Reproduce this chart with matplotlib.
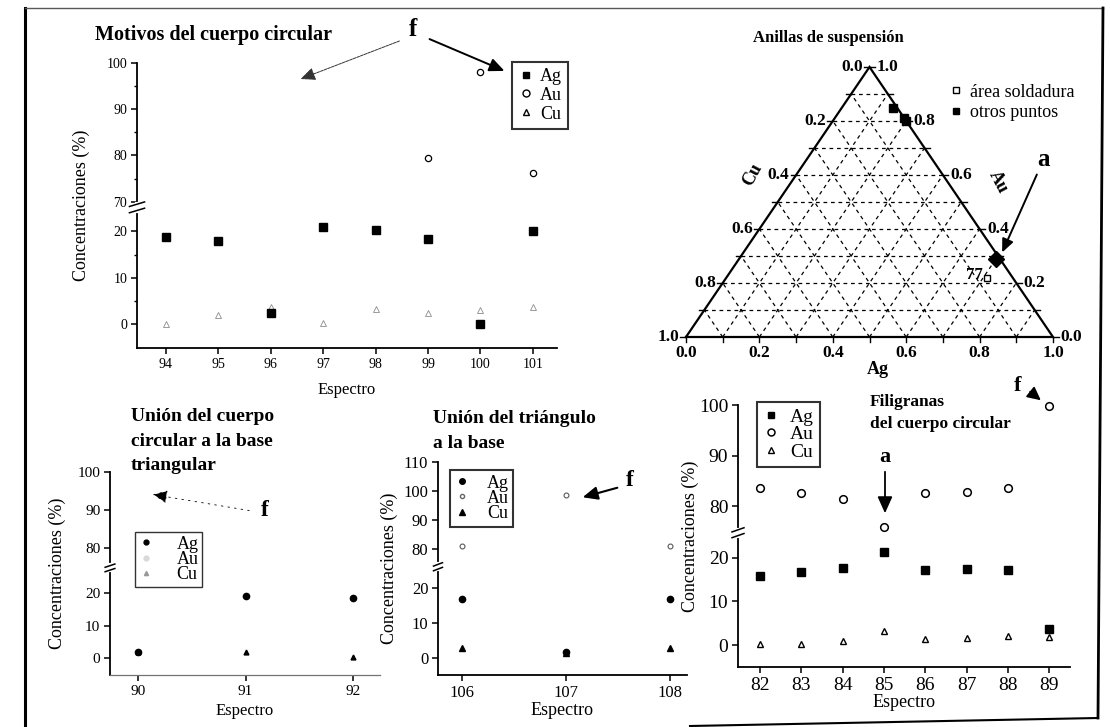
import numpy as np
import matplotlib
matplotlib.use('Agg')
import matplotlib.pyplot as plt
from matplotlib.lines import Line2D

plt.rcParams['font.family'] = ['Liberation Serif', 'DejaVu Serif']
plt.rcParams['mathtext.fontset'] = 'stix'

# ---- data: Motivos del cuerpo circular ----
esp_motivos = [94, 95, 96, 97, 98, 99, 100, 101]
ag_motivos = [18.9, 17.9, 2.3, 21.0, 20.4, 18.3, 0.0, 20.0]
au_motivos_x = [99, 100, 101]
au_motivos = [79.5, 98.0, 76.3]
cu_motivos = [0.0, 2.0, 3.6, 0.2, 3.2, 2.3, 3.0, 3.6]

# ---- data: Unión del cuerpo circular a la base triangular ----
esp_union1 = [90, 91, 92]
ag_union1 = [2.0, 19.1, 18.5]
cu_union1 = [2.0, 1.8, 0.4]

# ---- data: Unión del triángulo a la base ----
esp_union2 = [106, 107, 108]
ag_union2 = [17.0, 1.7, 17.0]
au_union2 = [81.0, 98.5, 81.0]
cu_union2 = [3.0, 1.5, 3.0]

# ---- data: Filigranas del cuerpo circular ----
esp_filig = [82, 83, 84, 85, 86, 87, 88, 89]
ag_filig = [15.9, 16.8, 17.7, 21.4, 17.3, 17.5, 17.3, 3.6]
au_filig = [83.7, 82.7, 81.4, 75.9, 82.7, 82.9, 83.7, 99.8]
cu_filig = [0.2, 0.2, 0.9, 3.2, 1.4, 1.6, 2.0, 1.8]

# ---- data: Anillas de suspensión (ternary Ag-Au-Cu fractions) ----
otros_ag = [0.14, 0.19, 0.20]
otros_au = [0.85, 0.81, 0.80]
a_ag, a_au = 0.70, 0.29
sold_ag, sold_au = 0.71, 0.22
sold_label = '77'
tern_ticks = [0.0, 0.2, 0.4, 0.6, 0.8, 1.0]

W, H = 1110, 727
fig = plt.figure(figsize=(W / 100, H / 100), dpi=100)


def px(x, y):
    return (x, H - y)


def box(l, r, t, b):
    return [l / W, 1 - b / H, (r - l) / W, (b - t) / H]


def broken(b1, b2, k, eps=0.01):
    m2 = b1 + (b2 - b1) * eps

    def fwd(y):
        y = np.asarray(y, dtype=float)
        return np.where(y <= b1, y,
                        np.where(y <= b2, b1 + (y - b1) * eps, m2 + (y - b2) * k))

    def inv(m):
        m = np.asarray(m, dtype=float)
        return np.where(m <= b1, m,
                        np.where(m <= m2, b1 + (m - b1) / eps, b2 + (m - m2) / k))
    return fwd, inv


def setup_axis(ax, b1, b2, k, ylo, yhi, yticks, xlim, xticks, fs, minor=None):
    fwd, inv = broken(b1, b2, k)
    ax.set_yscale('function', functions=(fwd, inv))
    ax.set_ylim(ylo, yhi)
    ax.set_yticks(yticks)
    ax.set_yticklabels([str(v) for v in yticks])
    if minor is not None:
        ax.set_yticks(minor, minor=True)
    ax.set_xlim(*xlim)
    ax.set_xticks(xticks)
    ax.set_xticklabels([str(v) for v in xticks])
    for s in ['top', 'right']:
        ax.spines[s].set_visible(False)
    for s in ['left', 'bottom']:
        ax.spines[s].set_linewidth(1.3)
    ax.tick_params(axis='both', direction='out', length=4, width=1.1,
                   labelsize=fs, pad=3)
    ax.tick_params(axis='y', which='minor', length=2, width=1)
    ax.tick_params(axis='x', which='minor', bottom=False)
    # break mark on the y axis
    lo, hi = fwd(ylo), fwd(yhi)
    f = (fwd(b1) + 0.5 * (fwd(b2) - fwd(b1)) - lo) / (hi - lo)
    ax.plot([0, 0], [f - 0.012, f + 0.012], transform=ax.transAxes,
            color='white', lw=3, clip_on=False, zorder=5)
    for d in (-0.011, 0.011):
        ax.plot([-0.018, 0.018], [f + d - 0.008, f + d + 0.008],
                transform=ax.transAxes, color='black', lw=1.1,
                clip_on=False, zorder=6)


def framed_legend(ax, handles, anchor, fs, lw, **kw):
    lg = ax.legend(handles, ['Ag', 'Au', 'Cu'], loc='upper left',
                   bbox_to_anchor=anchor, fancybox=False, fontsize=fs,
                   handlelength=0.8, borderaxespad=0, **kw)
    lg.get_frame().set_edgecolor('black')
    lg.get_frame().set_linewidth(lw)
    return lg


sq = dict(marker='s', color='black', linestyle='none', clip_on=False)
circ = dict(marker='o', mfc='white', mec='black', linestyle='none',
            clip_on=False)
tri = dict(marker='^', mfc='white', mec='black', linestyle='none',
           clip_on=False)

# ================= Panel 1: Motivos del cuerpo circular =================
ax1 = fig.add_axes(box(137, 557, 63, 348))
setup_axis(ax1, 25, 69, 1.0, -5.2, 100, [0, 10, 20, 70, 80, 90, 100],
           (93.45, 101.46), esp_motivos, 10,
           minor=[5, 15, 75, 85, 95])
ax1.plot(esp_motivos, cu_motivos, ms=4.5, mew=0.6, **{**tri, 'mec': '0.55'})
ax1.plot(au_motivos_x, au_motivos, ms=4.5, mew=0.9, **circ)
ax1.plot(esp_motivos, ag_motivos, ms=5.5, **sq)
ax1.set_ylabel('Concentraciones (%)', fontsize=13, labelpad=12)
ax1.set_xlabel('Espectro', fontsize=12, labelpad=8)
h1 = [Line2D([], [], ms=5, **sq), Line2D([], [], ms=5, mew=1, **circ),
      Line2D([], [], ms=5, mew=1, **tri)]
framed_legend(ax1, h1, (0.893, 1.005), 13, 1.5, handletextpad=0.4,
              borderpad=0.35, labelspacing=0.1)
fig.text(95 / W, 1 - 35 / H, 'Motivos del cuerpo circular', fontsize=14.5,
         fontweight='bold', va='center', ha='left')
fig.text(413 / W, 1 - 30 / H, 'f', fontsize=18, fontweight='bold',
         ha='center', va='center')
ax1.annotate('', xy=px(298, 80), xytext=px(402, 40), xycoords='figure pixels',
             textcoords='figure pixels',
             arrowprops=dict(arrowstyle='-|>,head_length=0.9,head_width=0.4',
                             color='0.2', lw=0.7, ls=(0, (3, 1))))
ax1.annotate('', xy=px(507, 72), xytext=px(427, 38), xycoords='figure pixels',
             textcoords='figure pixels',
             arrowprops=dict(arrowstyle='-|>,head_length=0.9,head_width=0.4',
                             color='black', lw=1.4))

# ================= Panel 2: ternary =================
ax2 = fig.add_axes(box(686, 1053, 67, 337))
ax2.set_xlim(0, 1)
ax2.set_ylim(0, 1)
ax2.axis('off')


def cart(ag, au):
    return np.asarray(ag) + np.asarray(au) / 2.0, np.asarray(au)


for i in range(1, 10):
    t = i / 10
    dash = dict(color='black', lw=0.9, ls=(0, (3, 3)))
    ax2.plot([t / 2, 1 - t / 2], [t, t], **dash)
    ax2.plot([t, t + (1 - t) / 2], [0, 1 - t], **dash)
    ax2.plot([1 - t, (1 - t) / 2], [0, 1 - t], **dash)
ax2.plot([0, 1, 0.5, 0], [0, 0, 1, 0], color='black', lw=1.6,
         clip_on=False, solid_joinstyle='miter')
for i in range(11):
    t = i / 10
    ax2.plot([t, t], [0, -0.02], color='black', lw=1, clip_on=False)
    ax2.plot([t / 2, t / 2 - 0.015], [t, t], color='black', lw=1, clip_on=False)
    ax2.plot([1 - t / 2, 1 - t / 2 + 0.015], [t, t], color='black', lw=1,
             clip_on=False)
tfs = 12.5
for v in tern_ticks:
    ax2.text(v, -0.03, f'{v:.1f}', ha='center', va='top', fontsize=tfs,
             fontweight='bold')
for v in tern_ticks:
    au = 1 - v
    ax2.text(au / 2 - 0.018, au, f'{v:.1f}', ha='right', va='center',
             fontsize=tfs, fontweight='bold')
for v in tern_ticks:
    ax2.text(1 - v / 2 + 0.02, v, f'{v:.1f}', ha='left', va='center',
             fontsize=tfs, fontweight='bold')
ax2.text(0.523, -0.12, 'Ag', ha='center', va='center', fontsize=13,
         fontweight='bold')
ax2.text(0.18, 0.60, 'Cu', ha='center', va='center', fontsize=13,
         fontweight='bold', rotation=62)
ax2.text(0.85, 0.575, 'Au', ha='center', va='center', fontsize=13,
         fontweight='bold', rotation=-62)
x, y = cart(otros_ag, otros_au)
ax2.plot(x, y, ms=5.5, **sq)
x, y = cart(a_ag, a_au)
ax2.plot([x], [y], marker='D', ms=8, color='black', ls='none', clip_on=False)
x, y = cart(sold_ag, sold_au)
ax2.plot([x], [y], marker='s', ms=5, mfc='white', mec='black', mew=1,
         ls='none')
ax2.text(x - 0.012, y + 0.01, sold_label, ha='right', va='center',
         fontsize=12, fontweight='bold')
h2 = [Line2D([], [], marker='s', ms=5, mfc='white', mec='black', mew=1,
             ls='none'),
      Line2D([], [], ms=5, **sq)]
ax2.legend(h2, ['área soldadura', 'otros puntos'], loc='upper left',
           bbox_to_anchor=(0.70, 0.965), frameon=False, fontsize=13,
           handlelength=0.6, handletextpad=0.5, labelspacing=0.2,
           borderaxespad=0)
fig.text(828 / W, 1 - 38 / H, 'Anillas de suspensión', fontsize=12,
         fontweight='bold', ha='center', va='center')
fig.text(1043 / W, 1 - 160 / H, 'a', fontsize=18, fontweight='bold',
         ha='center', va='center')
ax2.annotate('', xy=px(1001, 255), xytext=px(1038, 172),
             xycoords='figure pixels', textcoords='figure pixels',
             arrowprops=dict(arrowstyle='-|>,head_length=0.8,head_width=0.35',
                             color='black', lw=1.4))

# ================= Panel 3: Unión del cuerpo circular a la base =================
ax3 = fig.add_axes(box(110, 380, 472, 675))
setup_axis(ax3, 27.5, 75, 1.17, -5.2, 100, [0, 10, 20, 80, 90, 100],
           (89.74, 92.25), esp_union1, 11)
ax3.spines['bottom'].set_color('0.45')
ax3.spines['bottom'].set_linewidth(0.9)
ax3.plot(esp_union1, cu_union1, marker='^', ms=3.5, color='black', ls='none')
ax3.plot(esp_union1, ag_union1, marker='o', ms=4.5, color='black', ls='none')
ax3.set_ylabel('Concentraciones (%)', fontsize=13, labelpad=8)
ax3.set_xlabel('Espectro', fontsize=12, labelpad=4)
h3 = [Line2D([], [], marker='o', ms=3.5, color='black', ls='none'),
      Line2D([], [], marker='o', ms=3.5, color='0.85', ls='none'),
      Line2D([], [], marker='^', ms=3, color='0.6', ls='none')]
framed_legend(ax3, h3, (0.093, 0.704), 13, 1.0, handletextpad=1.3,
              borderpad=0.2, labelspacing=-0.1)
fig.text(131 / W, 1 - 441 / H, 'Unión del cuerpo\ncircular a la base\ntriangular',
         fontsize=14, fontweight='bold', ha='left', va='center',
         linespacing=1.6)
fig.text(265 / W, 1 - 511 / H, 'f', fontsize=17, fontweight='bold',
         ha='center', va='center')
ax3.annotate('', xy=px(150, 494), xytext=px(252, 511),
             xycoords='figure pixels', textcoords='figure pixels',
             arrowprops=dict(arrowstyle='-|>,head_length=0.9,head_width=0.4',
                             color='black', lw=0.6, ls=(0, (2, 6))))

# ================= Panel 4: Unión del triángulo a la base =================
ax4 = fig.add_axes(box(438, 687, 462, 675))
setup_axis(ax4, 26, 74, 0.83, -4.9, 110, [0, 10, 20, 80, 90, 100, 110],
           (105.77, 108.16), esp_union2, 12)
ax4.plot(esp_union2, cu_union2, marker='^', ms=4, color='black', ls='none')
ax4.plot(esp_union2, ag_union2, marker='o', ms=4.5, color='black', ls='none')
ax4.plot(esp_union2, au_union2, marker='o', ms=3.5, mfc='white',
         mec='0.35', mew=0.8, ls='none')
ax4.set_ylabel('Concentraciones (%)', fontsize=13, labelpad=4)
ax4.set_xlabel('Espectro', fontsize=13, labelpad=1)
h4 = [Line2D([], [], marker='o', ms=4, color='black', ls='none'),
      Line2D([], [], marker='o', ms=3, mfc='white', mec='0.4', ls='none'),
      Line2D([], [], marker='^', ms=4, color='black', ls='none')]
framed_legend(ax4, h4, (0.048, 0.962), 13, 1.5, handletextpad=1.0,
              borderpad=0.25, labelspacing=-0.1)
fig.text(433 / W, 1 - 431 / H, 'Unión del triángulo\na la base',
         fontsize=14, fontweight='bold', ha='left', va='center',
         linespacing=1.6)
fig.text(630 / W, 1 - 481 / H, 'f', fontsize=17, fontweight='bold',
         ha='center', va='center')
ax4.annotate('', xy=px(580, 498), xytext=px(620, 487),
             xycoords='figure pixels', textcoords='figure pixels',
             arrowprops=dict(arrowstyle='-|>,head_length=0.9,head_width=0.4',
                             color='black', lw=1.5))

# ================= Panel 5: Filigranas del cuerpo circular =================
ax5 = fig.add_axes(box(738, 1070, 405, 667))
setup_axis(ax5, 25.5, 75, 1.16, -5, 100, [0, 10, 20, 80, 90, 100],
           (81.47, 89.5), esp_filig, 14)
ax5.plot(esp_filig, ag_filig, ms=5.5, **sq)
ax5.plot(esp_filig, cu_filig, ms=5, mew=1, **tri)
ax5.plot(esp_filig, au_filig, ms=5.5, mew=1.1, **circ)
ax5.set_ylabel('Concentraciones (%)', fontsize=13, labelpad=0)
ax5.set_xlabel('Espectro', fontsize=13, labelpad=0)
h5 = [Line2D([], [], ms=5, **sq), Line2D([], [], ms=5, mew=1.1, **circ),
      Line2D([], [], ms=5, mew=1, **tri)]
framed_legend(ax5, h5, (0.057, 1.011), 14, 1.5, handletextpad=0.6,
              borderpad=0.3, labelspacing=0.0)
fig.text(870 / W, 1 - 413 / H, 'Filigranas\ndel cuerpo circular',
         fontsize=12.5, fontweight='bold', ha='left', va='center',
         linespacing=1.45)
fig.text(885 / W, 1 - 457 / H, 'a', fontsize=16, fontweight='bold',
         ha='center', va='center')
ax5.annotate('', xy=px(885, 516), xytext=px(885, 469),
             xycoords='figure pixels', textcoords='figure pixels',
             arrowprops=dict(arrowstyle='-|>,head_length=1.0,head_width=0.45',
                             color='black', lw=1.3))
fig.text(1018 / W, 1 - 386 / H, 'f', fontsize=16, fontweight='bold',
         ha='center', va='center')
ax5.annotate('', xy=px(1043, 402), xytext=px(1028, 390),
             xycoords='figure pixels', textcoords='figure pixels',
             arrowprops=dict(arrowstyle='-|>,head_length=0.8,head_width=0.4',
                             color='black', lw=1.3))

# ---- page frame ----
frame = dict(color='black', transform=fig.transFigure, clip_on=False)
fig.add_artist(Line2D([25 / W, 25 / W], [1 - 8 / H, 0], lw=2.2, **frame))
fig.add_artist(Line2D([25 / W, 1103 / W], [1 - 8 / H, 1 - 8 / H], lw=1.0,
                      color='0.35', transform=fig.transFigure))
fig.add_artist(Line2D([1103 / W, 1098 / W], [1 - 8 / H, 1 - 718 / H], lw=2.0,
                      **frame))
fig.add_artist(Line2D([690 / W, 1098 / W], [1 - 726 / H, 1 - 718 / H], lw=1.5,
                      **frame))

fig.savefig('out.png', dpi=100)
